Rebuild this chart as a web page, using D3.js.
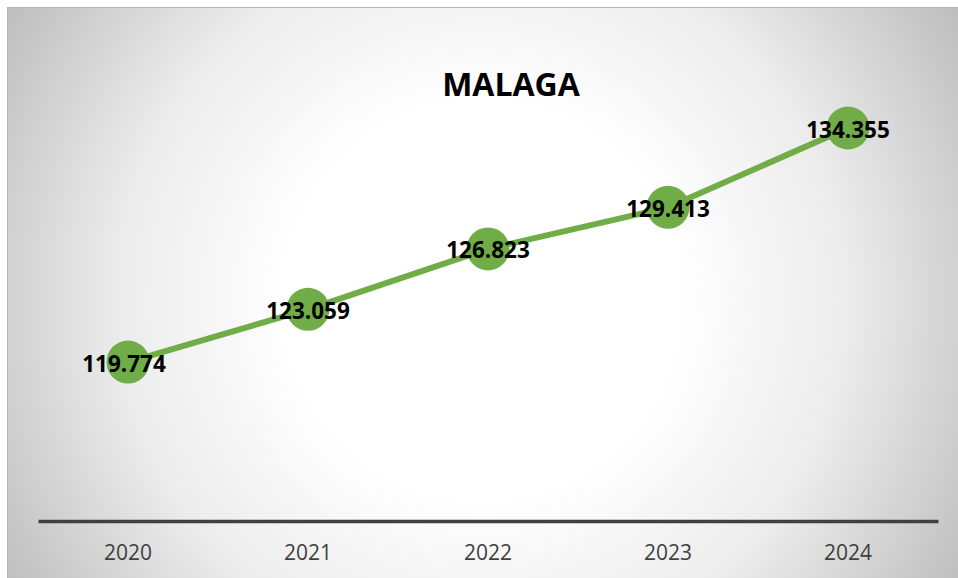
<!DOCTYPE html>
<html>
<head>
<meta charset="utf-8">
<script src="https://cdn.jsdelivr.net/npm/d3@7"></script>
<style>
  html, body { margin: 0; padding: 0; background: #fff; }
  svg { display: block; }
</style>
</head>
<body>
<svg id="chart" width="958" height="578"></svg>
<script>
const title = "MALAGA";
const years = ["2020", "2021", "2022", "2023", "2024"];
const values = [119.774, 123.059, 126.823, 129.413, 134.355];
const labels = ["119.774", "123.059", "126.823", "129.413", "134.355"];

const W = 958, H = 578;
const svg = d3.select("#chart");

const defs = svg.append("defs");
const grad = defs.append("radialGradient")
  .attr("id", "bg")
  .attr("gradientUnits", "userSpaceOnUse")
  .attr("cx", 482).attr("cy", 300).attr("r", 560);
grad.append("stop").attr("offset", 0).attr("stop-color", "#ffffff");
grad.append("stop").attr("offset", 0.35).attr("stop-color", "#ffffff");
grad.append("stop").attr("offset", 0.65).attr("stop-color", "#ececec");
grad.append("stop").attr("offset", 1).attr("stop-color", "#bdbdbd");

svg.append("rect")
  .attr("x", 7.5).attr("y", 7.5)
  .attr("width", W).attr("height", H)
  .attr("fill", "url(#bg)")
  .attr("stroke", "#b5b5b5").attr("stroke-width", 1);

const x = d3.scaleBand().domain(years).range([38, 938]);
const y = d3.scaleLinear().domain([109.87, 140]).range([521, 37.4]);
const cx = d => x(d) + x.bandwidth() / 2;

// title
svg.append("text")
  .attr("x", 511).attr("y", 96)
  .attr("text-anchor", "middle")
  .attr("font-family", "'Open Sans', sans-serif")
  .attr("font-weight", "bold")
  .attr("font-size", 32)
  .attr("fill", "#000")
  .text(title);

// x axis
const xAxis = d3.axisBottom(x).tickSize(0).tickPadding(0);
const gx = svg.append("g").attr("transform", `translate(0,${y.range()[0]})`).call(xAxis);
gx.select(".domain").attr("stroke", "#404040").attr("stroke-width", 3.5);
gx.selectAll(".tick text")
  .attr("y", 39)
  .attr("dy", null)
  .attr("font-family", "'Open Sans', sans-serif")
  .attr("font-size", 21)
  .attr("fill", "#404040");

const data = years.map((yr, i) => ({ yr, v: values[i], lab: labels[i] }));

// line
svg.append("path")
  .datum(data)
  .attr("fill", "none")
  .attr("stroke", "#70AD47")
  .attr("stroke-width", 6)
  .attr("stroke-linejoin", "round")
  .attr("d", d3.line().x(d => cx(d.yr)).y(d => y(d.v)));

// markers
svg.selectAll("circle.pt")
  .data(data).enter().append("circle")
  .attr("class", "pt")
  .attr("cx", d => cx(d.yr)).attr("cy", d => y(d.v))
  .attr("r", 21.5)
  .attr("fill", "#70AD47");

// labels
svg.selectAll("text.lab")
  .data(data).enter().append("text")
  .attr("class", "lab")
  .attr("x", (d, i) => cx(d.yr) + (i === 0 ? -4 : 0))
  .attr("y", d => y(d.v) + 9.5)
  .attr("text-anchor", "middle")
  .attr("font-family", "'Open Sans', sans-serif")
  .attr("font-weight", "bold")
  .attr("font-size", 22.5)
  .attr("fill", "#000")
  .text(d => d.lab);
</script>
</body>
</html>
